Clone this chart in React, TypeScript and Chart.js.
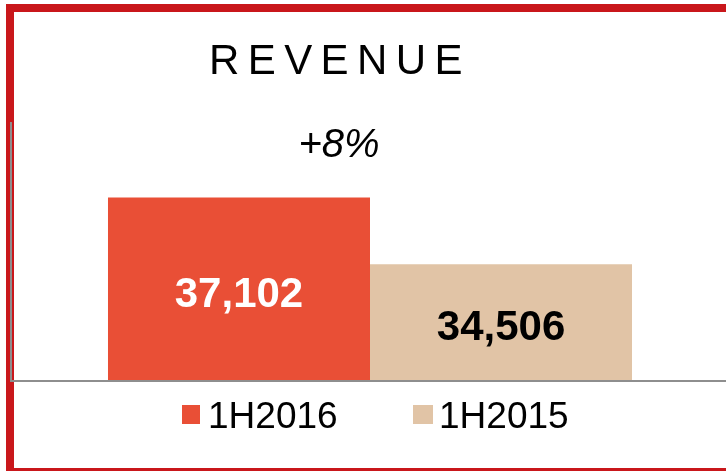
import React, { useEffect, useRef } from "react";
import { Chart, registerables } from "chart.js";

Chart.register(...registerables);

const titleText = "REVENUE";
const growthText = "+8%";
const categories = ["Revenue"];
const seriesNames = ["1H2016", "1H2015"];
const values2016 = [37102];
const values2015 = [34506];
const seriesColors = ["#E94F36", "#E1C4A6"];
const labelColors = ["#FFFFFF", "#000000"];
const yMin = 30000;
const yMax = 40000;

const FONT = '"Liberation Sans", Arial, Helvetica, sans-serif';

const valueLabelPlugin = {
  id: "valueLabels",
  afterDraw(chart: any) {
    const ctx = chart.ctx;
    const yScale = chart.scales.y;
    ctx.save();
    ctx.font = "bold 42px 'Liberation Sans', Arial, sans-serif";
    ctx.textAlign = "center";
    ctx.textBaseline = "alphabetic";
    chart.data.datasets.forEach((ds: any, i: number) => {
      const meta = chart.getDatasetMeta(i);
      meta.data.forEach((bar: any, j: number) => {
        const v = Number(ds.data[j]);
        const top = yScale.getPixelForValue(v);
        const base = yScale.getPixelForValue(yMin);
        const cy = (top + base) / 2;
        ctx.fillStyle = labelColors[i];
        ctx.fillText(v.toLocaleString("en-US"), bar.x, cy + 18);
      });
    });
    // axis lines
    const a = chart.chartArea;
    ctx.strokeStyle = "#8E8E8E";
    ctx.lineWidth = 2;
    ctx.beginPath();
    ctx.moveTo(a.left + 1, a.top - 1);
    ctx.lineTo(a.left + 1, a.bottom + 2);
    ctx.moveTo(a.left, a.bottom + 1);
    ctx.lineTo(a.right + 20, a.bottom + 1);
    ctx.stroke();
    ctx.restore();
  },
};

function RevenueChart() {
  const ref = useRef<HTMLCanvasElement | null>(null);
  useEffect(() => {
    if (!ref.current) return;
    const chart = new Chart(ref.current, {
      type: "bar",
      data: {
        labels: categories,
        datasets: [
          {
            label: seriesNames[0],
            data: values2016,
            backgroundColor: seriesColors[0],
            borderWidth: 0,
            barPercentage: 1,
            categoryPercentage: 0.7278,
          },
          {
            label: seriesNames[1],
            data: values2015,
            backgroundColor: seriesColors[1],
            borderWidth: 0,
            barPercentage: 1,
            categoryPercentage: 0.7278,
          },
        ],
      },
      options: {
        responsive: false,
        animation: false,
        devicePixelRatio: 1,
        layout: { padding: { left: 10, right: 10, top: 123, bottom: 91 } },
        plugins: {
          legend: { display: false },
          title: { display: false },
          tooltip: { enabled: false },
        },
        scales: {
          x: { display: false },
          y: { display: false, min: yMin, max: yMax },
        },
      },
      plugins: [valueLabelPlugin],
    });
    return () => chart.destroy();
  }, []);
  return (
    <canvas
      ref={ref}
      width={740}
      height={471}
      style={{ position: "absolute", left: 0, top: 0, width: 740, height: 471 }}
    />
  );
}

export default function App() {
  return (
    <div
      style={{
        position: "fixed",
        left: 0,
        top: 0,
        width: 726,
        height: 471,
        overflow: "hidden",
        background: "#FFFFFF",
        fontFamily: FONT,
      }}
    >
      <div
        style={{
          position: "absolute",
          left: 6,
          top: 4,
          width: 900,
          height: 472,
          boxSizing: "border-box",
          border: "8px solid #C9171B",
        }}
      />
      <RevenueChart />
      <div
        style={{
          position: "absolute",
          left: 209,
          top: 39,
          fontSize: 42,
          lineHeight: "42px",
          letterSpacing: 8.4,
          color: "#000",
          whiteSpace: "nowrap",
        }}
      >
        {titleText}
      </div>
      <div
        style={{
          position: "absolute",
          left: 239,
          top: 123,
          width: 200,
          textAlign: "center",
          fontSize: 40,
          lineHeight: "40px",
          fontStyle: "italic",
          color: "#000",
          whiteSpace: "nowrap",
        }}
      >
        {growthText}
      </div>
      <div style={{ position: "absolute", left: 182, top: 405, width: 18, height: 19, background: seriesColors[0] }} />
      <div
        style={{
          position: "absolute",
          left: 208,
          top: 397,
          fontSize: 37,
          lineHeight: "37px",
          color: "#000",
          whiteSpace: "nowrap",
        }}
      >
        {seriesNames[0]}
      </div>
      <div style={{ position: "absolute", left: 413, top: 405, width: 20, height: 19, background: seriesColors[1] }} />
      <div
        style={{
          position: "absolute",
          left: 439,
          top: 397,
          fontSize: 37,
          lineHeight: "37px",
          color: "#000",
          whiteSpace: "nowrap",
        }}
      >
        {seriesNames[1]}
      </div>
    </div>
  );
}
